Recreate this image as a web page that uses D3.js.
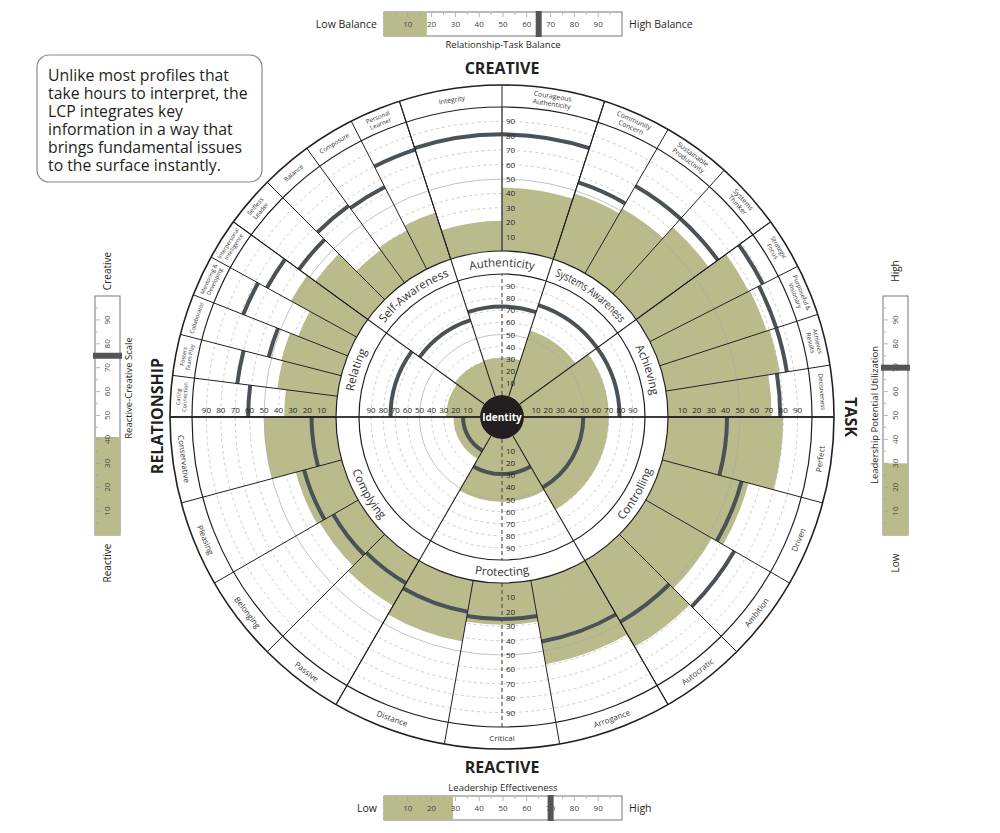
<!DOCTYPE html>
<html lang="en">
<head>
<meta charset="UTF-8">
<title>Leadership Circle Profile</title>
<style>
  body { margin: 0; background: #fff; }
  svg { display: block; font-family: "Open Sans", "Lato", sans-serif; }
</style>
</head>
<body>
<svg width="1000" height="833"></svg>
<script src="https://cdn.jsdelivr.net/npm/d3@7/dist/d3.min.js"></script>
<script>
// ---- data ----
var creativeDims = ["Relating", "Self-Awareness", "Authenticity", "Systems Awareness", "Achieving"];
var creativeDimScores = [28, 30, 31, 57, 70];
var creativeDimNorms = [74, 66, 73, 79, 79];
var creativeSizes = [5, 4, 2, 3, 4];

var reactiveDims = ["Controlling", "Protecting", "Complying"];
var reactiveDimScores = [70, 52, 22];
var reactiveDimNorms = [49, 29, 14];
var reactiveSizes = [4, 3, 4];

var creativeComps = ["Caring\nConnection", "Fosters\nTeam Play", "Collaborator", "Mentoring &\nDeveloping", "Interpersonal\nIntelligence",
  "Selfless\nLeader", "Balance", "Composure", "Personal\nLearner",
  "Integrity", "Courageous\nAuthenticity",
  "Community\nConcern", "Sustainable\nProductivity", "Systems\nThinker",
  "Strategic\nFocus", "Purposeful &\nVisionary", "Achieves\nResults", "Decisiveness"];
var creativeScores = [36, 42, 43, 37, 52, 45, 28, 30, 34, 21, 44, 48, 52, 62, 77, 78, 80, 72];
var creativeNorms = [61, 70, 52, 78, 71, 59, 66, 64, 80, 81, 81, 56, 70, 70, 88, 85, 85, 78];

var reactiveComps = ["Perfect", "Driven", "Ambition", "Autocratic", "Arrogance", "Critical", "Distance",
  "Passive", "Belonging", "Pleasing", "Conservative"];
var reactiveScores = [80, 62, 53, 69, 59, 29, 43, 36, 31, 33, 50];
var reactiveNorms = [41, 57, 71, 49, 43, 25, 22, 18, 20, 27, 17];

var ticks = [10, 20, 30, 40, 50, 60, 70, 80, 90];

var balanceScore = 18, balanceMarker = 65;          // Relationship-Task Balance
var effectivenessScore = 29, effectivenessMarker = 70; // Leadership Effectiveness
var reactiveCreativeScore = 41, reactiveCreativeMarker = 75;
var utilizationScore = 30, utilizationMarker = 70;

// ---- setup ----
var svg = d3.select("svg");
var cx = 502, cy = 417;
var GREEN = "#b9bc8a", DARK = "#4b5257", INK = "#231f20";
var toRad = function (d) { return d * Math.PI / 180; };
var pt = function (r, a) { return [r * Math.sin(toRad(a)), -r * Math.cos(toRad(a))]; };

var outerR = d3.scaleLinear().domain([0, 100]).range([166, 310]);
var innerR = d3.scaleLinear().domain([0, 100]).range([22, 143]);
var R_OUT = 332, R_LAB = 310, R_BAND_OUT = 166, R_BAND_IN = 143, R_ID = 22;

function buildComps(start, span, sizes, names, scores, norms) {
  var out = [], k = 0;
  sizes.forEach(function (n, i) {
    var a0 = start + i * span, step = span / n;
    for (var j = 0; j < n; j++) {
      out.push({ name: names[k], score: scores[k], norm: norms[k], a0: a0 + j * step, a1: a0 + (j + 1) * step });
      k++;
    }
  });
  return out;
}
function buildDims(start, span, names, scores, norms, top) {
  return names.map(function (n, i) {
    return { name: n, score: scores[i], norm: norms[i], a0: start + i * span, a1: start + (i + 1) * span, top: top };
  });
}

var comps = buildComps(-90, 36, creativeSizes, creativeComps, creativeScores, creativeNorms)
  .map(function (d) { d.top = true; return d; })
  .concat(buildComps(90, 60, reactiveSizes, reactiveComps, reactiveScores, reactiveNorms)
    .map(function (d) { d.top = false; return d; }));
var dims = buildDims(-90, 36, creativeDims, creativeDimScores, creativeDimNorms, true)
  .concat(buildDims(90, 60, reactiveDims, reactiveDimScores, reactiveDimNorms, false));

var arc = d3.arc();
function sector(r0, r1, a0, a1) {
  return arc({ innerRadius: r0, outerRadius: r1, startAngle: toRad(a0), endAngle: toRad(a1) });
}

var g = svg.append("g").attr("transform", "translate(" + cx + "," + cy + ")");

g.append("circle").attr("r", R_OUT).attr("fill", "#fff");

// green scores
g.selectAll(".outer-score").data(comps).enter().append("path")
  .attr("d", function (d) { return sector(R_BAND_OUT, outerR(d.score), d.a0, d.a1); })
  .attr("fill", GREEN);
g.selectAll(".inner-score").data(dims).enter().append("path")
  .attr("d", function (d) { return sector(R_ID, innerR(d.score), d.a0, d.a1); })
  .attr("fill", GREEN);

// grid rings
ticks.forEach(function (t) {
  [outerR(t), innerR(t)].forEach(function (r) {
    g.append("circle").attr("r", r).attr("fill", "none")
      .attr("stroke", t === 50 ? "#a8a8a8" : "#b4b4b4")
      .attr("stroke-width", 0.7)
      .attr("stroke-dasharray", t === 50 ? null : "3,3");
  });
});

// norm arcs
g.selectAll(".outer-norm").data(comps).enter().append("path")
  .attr("d", function (d) { var r = outerR(d.norm); return sector(r - 2, r + 2, d.a0, d.a1); })
  .attr("fill", DARK);
g.selectAll(".inner-norm").data(dims).enter().append("path")
  .attr("d", function (d) { var r = innerR(d.norm); return sector(r - 2, r + 2, d.a0, d.a1); })
  .attr("fill", DARK);

// white label bands
g.append("path").attr("d", sector(R_BAND_IN, R_BAND_OUT, 0, 360)).attr("fill", "#fff");
g.append("path").attr("d", sector(R_LAB, R_OUT, 0, 360)).attr("fill", "#fff");

// vertical axis lines
g.append("line").attr("x1", 0).attr("y1", -R_ID).attr("x2", 0).attr("y2", -R_BAND_IN)
  .attr("stroke", "#555").attr("stroke-width", 1.2).attr("stroke-dasharray", "4,3");
g.append("line").attr("x1", 0).attr("y1", R_ID).attr("x2", 0).attr("y2", R_BAND_IN)
  .attr("stroke", "#555").attr("stroke-width", 1.2).attr("stroke-dasharray", "4,3");
g.append("line").attr("x1", 0).attr("y1", -R_BAND_OUT).attr("x2", 0).attr("y2", -R_LAB)
  .attr("stroke", "#999").attr("stroke-width", 1);
g.append("line").attr("x1", 0).attr("y1", R_BAND_OUT).attr("x2", 0).attr("y2", R_LAB)
  .attr("stroke", "#555").attr("stroke-width", 1.2).attr("stroke-dasharray", "4,3");

// radial lines
g.selectAll(".comp-line").data(comps).enter().append("line")
  .attr("x1", function (d) { return pt(R_BAND_OUT, d.a0)[0]; })
  .attr("y1", function (d) { return pt(R_BAND_OUT, d.a0)[1]; })
  .attr("x2", function (d) { return pt(R_OUT, d.a0)[0]; })
  .attr("y2", function (d) { return pt(R_OUT, d.a0)[1]; })
  .attr("stroke", INK).attr("stroke-width", 1);
g.selectAll(".dim-line").data(dims).enter().append("line")
  .attr("x1", function (d) { return pt(R_ID, d.a0)[0]; })
  .attr("y1", function (d) { return pt(R_ID, d.a0)[1]; })
  .attr("x2", function (d) { return pt(R_OUT, d.a0)[0]; })
  .attr("y2", function (d) { return pt(R_OUT, d.a0)[1]; })
  .attr("stroke", INK).attr("stroke-width", 1.1);
// divider
[-1, 1].forEach(function (s) {
  g.append("line").attr("x1", s * R_ID).attr("y1", 0).attr("x2", s * R_OUT).attr("y2", 0)
    .attr("stroke", INK).attr("stroke-width", 1.4);
});

// ring outlines
[R_BAND_IN, R_BAND_OUT, R_LAB].forEach(function (r) {
  g.append("circle").attr("r", r).attr("fill", "none").attr("stroke", INK).attr("stroke-width", 1.2);
});
g.append("circle").attr("r", R_OUT).attr("fill", "none").attr("stroke", INK).attr("stroke-width", 1.6);

// tick labels
var tickG = g.append("g").attr("font-size", 8).attr("fill", INK);
ticks.forEach(function (t) {
  [outerR(t), innerR(t)].forEach(function (r) {
    tickG.append("text").attr("x", 4).attr("y", -r + 3).text(t);
    tickG.append("text").attr("x", 4).attr("y", r + 3).text(t);
    tickG.append("text").attr("x", -r).attr("y", -4).attr("text-anchor", "middle").text(t);
    tickG.append("text").attr("x", r).attr("y", -4).attr("text-anchor", "middle").text(t);
  });
});

// identity
g.append("circle").attr("r", R_ID).attr("fill", INK);
g.append("text").attr("y", 4).attr("text-anchor", "middle").attr("fill", "#fff")
  .attr("font-size", 10).attr("font-weight", 700).text("Identity");

// dimension labels on curved paths
var defs = svg.append("defs");
dims.forEach(function (d, i) {
  var mid = (d.a0 + d.a1) / 2, w = (d.a1 - d.a0) / 2 - 1, p0, p1, r, path;
  if (d.top) {
    r = 150.5; p0 = pt(r, mid - w); p1 = pt(r, mid + w);
    path = "M" + p0 + " A" + r + "," + r + " 0 0 1 " + p1;
  } else {
    r = 159; p0 = pt(r, mid + w); p1 = pt(r, mid - w);
    path = "M" + p0 + " A" + r + "," + r + " 0 0 0 " + p1;
  }
  defs.append("path").attr("id", "dimpath" + i).attr("d", path)
    .attr("transform", "translate(" + cx + "," + cy + ")");
  var tp = svg.append("text").attr("font-size", 11.5).attr("fill", "#333")
    .append("textPath").attr("href", "#dimpath" + i).attr("startOffset", "50%")
    .attr("text-anchor", "middle").text(d.name);
  var avail = toRad(2 * w) * r - 8;
  if (tp.node().getComputedTextLength() > avail) {
    tp.attr("textLength", avail).attr("lengthAdjust", "spacingAndGlyphs");
  }
});

// competency labels
comps.forEach(function (d) {
  var span = d.a1 - d.a0, mid = (d.a0 + d.a1) / 2, p = pt(321, mid);
  var rot = d.top ? mid : mid - 180;
  var lines = d.name.split("\n");
  var fs = d.top ? (span < 8 ? 5.6 : span < 10 ? 6.2 : 6.8) : 8;
  var lh = fs + 0.9;
  var avail = toRad(span) * 316 - 4;
  var t = g.append("text").attr("transform", "translate(" + p + ") rotate(" + rot + ")")
    .attr("text-anchor", "middle").attr("font-size", fs).attr("fill", "#333");
  lines.forEach(function (l, i) {
    var ts = t.append("tspan").attr("x", 0)
      .attr("y", lines.length === 1 ? fs * 0.36 : (i - 0.5) * lh + fs * 0.36)
      .text(l);
    if (ts.node().getComputedTextLength() > avail) {
      ts.attr("textLength", avail).attr("lengthAdjust", "spacingAndGlyphs");
    }
  });
});

// titles
svg.append("text").attr("x", cx).attr("y", 74).attr("text-anchor", "middle")
  .attr("font-size", 16).attr("font-weight", 700).attr("fill", INK).text("CREATIVE");
svg.append("text").attr("x", cx).attr("y", 773).attr("text-anchor", "middle")
  .attr("font-size", 16).attr("font-weight", 700).attr("fill", INK).text("REACTIVE");
svg.append("text").attr("transform", "translate(163,416) rotate(-90)").attr("text-anchor", "middle")
  .attr("font-size", 16).attr("font-weight", 700).attr("fill", INK).text("RELATIONSHIP");
svg.append("text").attr("transform", "translate(845,417) rotate(90)").attr("text-anchor", "middle")
  .attr("font-size", 16).attr("font-weight", 700).attr("fill", INK).text("TASK");

// ---- bars ----
function hBar(y, score, marker, leftText, rightText, title, titleY) {
  var x = d3.scaleLinear().domain([0, 100]).range([384, 622]);
  var bar = svg.append("g");
  bar.append("rect").attr("x", x(0)).attr("y", y).attr("width", x(100) - x(0)).attr("height", 24)
    .attr("fill", "#fff").attr("stroke", "#777").attr("stroke-width", 1);
  bar.append("rect").attr("x", x(0)).attr("y", y).attr("width", x(score) - x(0)).attr("height", 24)
    .attr("fill", GREEN);
  d3.range(5, 100, 5).forEach(function (t) {
    bar.append("line").attr("x1", x(t)).attr("x2", x(t)).attr("y1", y + 1).attr("y2", y + (t % 10 ? 3 : 5))
      .attr("stroke", "#999").attr("stroke-width", 0.7);
  });
  ticks.forEach(function (t) {
    bar.append("text").attr("x", x(t)).attr("y", y + 15).attr("text-anchor", "middle")
      .attr("font-size", 8).attr("fill", "#444").text(t);
  });
  bar.append("rect").attr("x", x(marker) - 3).attr("y", y - 1).attr("width", 6).attr("height", 26).attr("fill", "#555");
  bar.append("text").attr("x", x(0) - 7).attr("y", y + 16).attr("text-anchor", "end")
    .attr("font-size", 10.5).attr("fill", INK).text(leftText);
  bar.append("text").attr("x", x(100) + 7).attr("y", y + 16)
    .attr("font-size", 10.5).attr("fill", INK).text(rightText);
  bar.append("text").attr("x", 503).attr("y", titleY).attr("text-anchor", "middle")
    .attr("font-size", 9.5).attr("fill", INK).text(title);
}
hBar(12, balanceScore, balanceMarker, "Low Balance", "High Balance", "Relationship-Task Balance", 48);
hBar(796, effectivenessScore, effectivenessMarker, "Low", "High", "Leadership Effectiveness", 791);

function vBar(x0, score, marker, topText, bottomText, title, titleX, titleY) {
  var y = d3.scaleLinear().domain([0, 100]).range([535, 296]);
  var bar = svg.append("g");
  bar.append("rect").attr("x", x0).attr("y", y(100)).attr("width", 25).attr("height", y(0) - y(100))
    .attr("fill", "#fff").attr("stroke", "#777").attr("stroke-width", 1);
  bar.append("rect").attr("x", x0).attr("y", y(score)).attr("width", 25).attr("height", y(0) - y(score))
    .attr("fill", GREEN);
  d3.range(5, 100, 5).forEach(function (t) {
    bar.append("line").attr("x1", x0 + 1).attr("x2", x0 + (t % 10 ? 3 : 5)).attr("y1", y(t)).attr("y2", y(t))
      .attr("stroke", "#999").attr("stroke-width", 0.7);
  });
  ticks.forEach(function (t) {
    bar.append("text").attr("transform", "translate(" + (x0 + 15) + "," + y(t) + ") rotate(-90)")
      .attr("text-anchor", "middle").attr("font-size", 8).attr("fill", "#444").text(t);
  });
  bar.append("rect").attr("x", x0 - 2).attr("y", y(marker) - 3).attr("width", 29).attr("height", 6).attr("fill", "#555");
  bar.append("text").attr("transform", "translate(" + (x0 + 16) + "," + (y(100) - 25) + ") rotate(-90)")
    .attr("text-anchor", "middle").attr("font-size", 10).attr("fill", INK).text(topText);
  bar.append("text").attr("transform", "translate(" + (x0 + 16) + "," + (y(0) + 28) + ") rotate(-90)")
    .attr("text-anchor", "middle").attr("font-size", 10).attr("fill", INK).text(bottomText);
  bar.append("text").attr("transform", "translate(" + titleX + "," + titleY + ") rotate(-90)")
    .attr("text-anchor", "middle").attr("font-size", 9.5).attr("fill", INK).text(title);
}
vBar(95, reactiveCreativeScore, reactiveCreativeMarker, "Creative", "Reactive", "Reactive-Creative Scale", 132, 388);
vBar(883, utilizationScore, utilizationMarker, "High", "Low", "Leadership Potential Utilization", 878, 415);

// ---- note box ----
var note = ["Unlike most profiles that", "take hours to interpret, the", "LCP integrates key",
  "information in a way that", "brings fundamental issues", "to the surface instantly."];
svg.append("rect").attr("x", 37).attr("y", 55).attr("width", 225).attr("height", 127).attr("rx", 12)
  .attr("fill", "#fff").attr("stroke", "#8a8a8a").attr("stroke-width", 1.2);
svg.append("g").selectAll("text").data(note).enter().append("text")
  .attr("x", 48).attr("y", function (d, i) { return 81 + i * 18; })
  .attr("font-size", 15.8).attr("fill", INK).text(function (d) { return d; });
</script>
</body>
</html>
